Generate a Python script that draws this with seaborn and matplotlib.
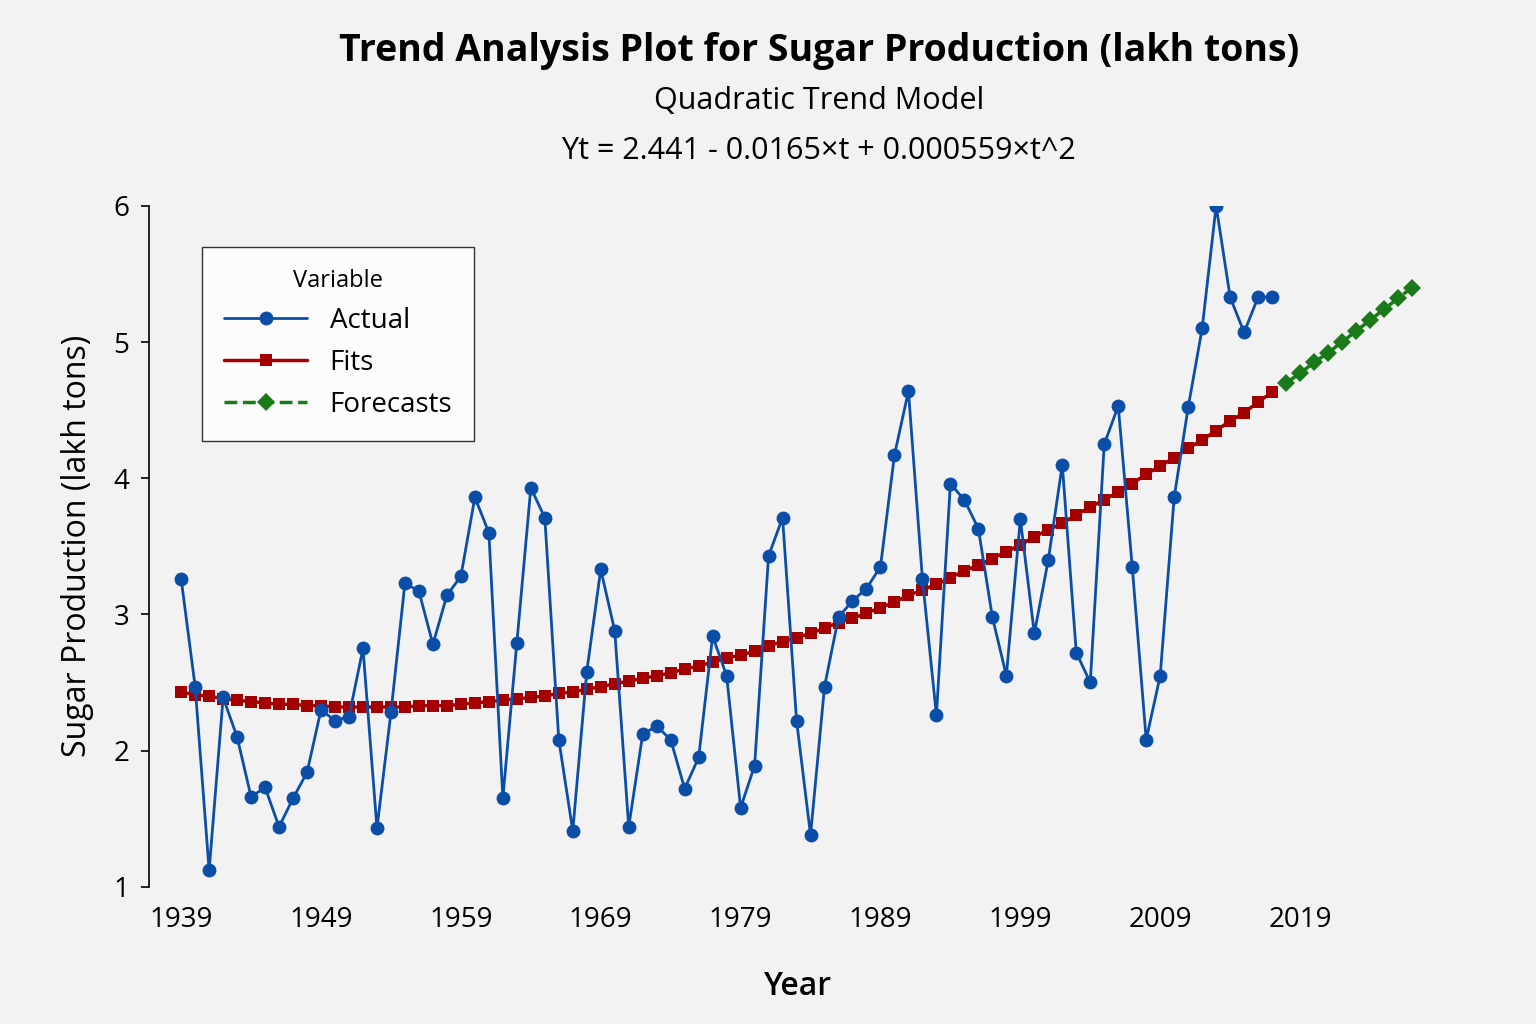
import numpy as np
import pandas as pd
import seaborn as sns
import matplotlib.pyplot as plt

years = list(range(1939, 2018))
actual = [3.26, 2.47, 1.12, 2.39, 2.10, 1.66, 1.73, 1.44, 1.65, 1.84,
          2.30, 2.22, 2.25, 2.75, 1.43, 2.28, 3.23, 3.17, 2.78, 3.14,
          3.28, 3.86, 3.60, 1.65, 2.79, 3.93, 3.71, 2.08, 1.41, 2.58,
          3.33, 2.88, 1.44, 2.12, 2.18, 2.08, 1.72, 1.95, 2.84, 2.55,
          1.58, 1.89, 3.43, 3.71, 2.22, 1.38, 2.47, 2.98, 3.10, 3.19,
          3.35, 4.17, 4.64, 3.26, 2.26, 3.96, 3.84, 3.63, 2.98, 2.55,
          3.70, 2.86, 3.40, 4.10, 2.72, 2.50, 4.25, 4.53, 3.35, 2.08,
          2.55, 3.86, 4.52, 5.10, 6.00, 5.33, 5.07, 5.33, 5.33]
actual = actual[:len(years)]
fits = [2.43, 2.41, 2.40, 2.38, 2.37, 2.36, 2.35, 2.34, 2.34, 2.33,
        2.33, 2.32, 2.32, 2.32, 2.32, 2.32, 2.32, 2.33, 2.33, 2.33,
        2.34, 2.35, 2.36, 2.37, 2.38, 2.39, 2.40, 2.42, 2.43, 2.45,
        2.47, 2.49, 2.51, 2.53, 2.55, 2.57, 2.60, 2.62, 2.65, 2.68,
        2.70, 2.73, 2.77, 2.80, 2.83, 2.86, 2.90, 2.94, 2.97, 3.01,
        3.05, 3.09, 3.14, 3.18, 3.22, 3.27, 3.32, 3.36, 3.41, 3.46,
        3.51, 3.57, 3.62, 3.67, 3.73, 3.79, 3.84, 3.90, 3.96, 4.03,
        4.09, 4.15, 4.22, 4.28, 4.35, 4.42, 4.48, 4.56, 4.63]
fc_years = list(range(2018, 2028))
forecasts = [4.70, 4.77, 4.85, 4.92, 5.00, 5.08, 5.16, 5.24, 5.32, 5.40]

sns.set_theme(style="white")
plt.rcParams['font.family'] = ['Open Sans', 'DejaVu Sans']
plt.rcParams['text.color'] = 'black'
plt.rcParams['axes.labelcolor'] = 'black'
bg = "#f2f2f2"

fig = plt.figure(figsize=(15.36, 10.24), dpi=100, facecolor=bg)
ax = fig.add_axes([0.097, 0.134, 0.845, 0.665], facecolor=bg)

df_a = pd.DataFrame({"Year": years, "v": actual})
df_f = pd.DataFrame({"Year": years, "v": fits})
df_c = pd.DataFrame({"Year": fc_years, "v": forecasts})

sns.lineplot(data=df_a, x="Year", y="v", ax=ax, color="#0b4ea8", lw=2,
             marker="o", markersize=10, markeredgewidth=0, label="Actual", zorder=3)
sns.lineplot(data=df_f, x="Year", y="v", ax=ax, color="#a50000", lw=2.5,
             marker="s", markersize=9, markeredgewidth=0, label="Fits", zorder=2)
sns.lineplot(data=df_c, x="Year", y="v", ax=ax, color="#1a7a1a", lw=2.5,
             linestyle="--", marker="D", markersize=9, markeredgewidth=0,
             label="Forecasts", zorder=2)

ax.set_xlim(1936.7, 2029.5)
ax.set_ylim(1, 6)
ax.set_xticks(range(1939, 2020, 10))
ax.set_yticks(range(1, 7))
ax.tick_params(axis="both", labelsize=20, length=6, width=1.2, direction="out",
               bottom=False, left=True, colors="black", pad=8)
for s in ["top", "right", "bottom"]:
    ax.spines[s].set_visible(False)
ax.spines["left"].set_color("black")
ax.spines["left"].set_linewidth(1.2)

ax.set_xlabel("Year", fontsize=23, fontweight="semibold", labelpad=26)
ax.set_ylabel("Sugar Production (lakh tons)", fontsize=23, labelpad=14)

fig.text(0.533, 0.95, "Trend Analysis Plot for Sugar Production (lakh tons)",
         ha="center", va="center", fontsize=27, fontweight="bold")
fig.text(0.533, 0.901, "Quadratic Trend Model", ha="center", va="center", fontsize=22)
fig.text(0.533, 0.853, "Yt = 2.441 - 0.0165\u00d7t + 0.000559\u00d7t^2",
         ha="center", va="center", fontsize=22)

leg = ax.legend(title="Variable", loc="upper left", bbox_to_anchor=(0.03, 0.96),
                fontsize=20, title_fontsize=17, frameon=True, fancybox=False,
                borderpad=0.8, handlelength=3, labelspacing=0.5)
leg.get_frame().set_edgecolor("black")
leg.get_frame().set_facecolor("white")

fig.savefig("out.png", dpi=100, facecolor=bg)
